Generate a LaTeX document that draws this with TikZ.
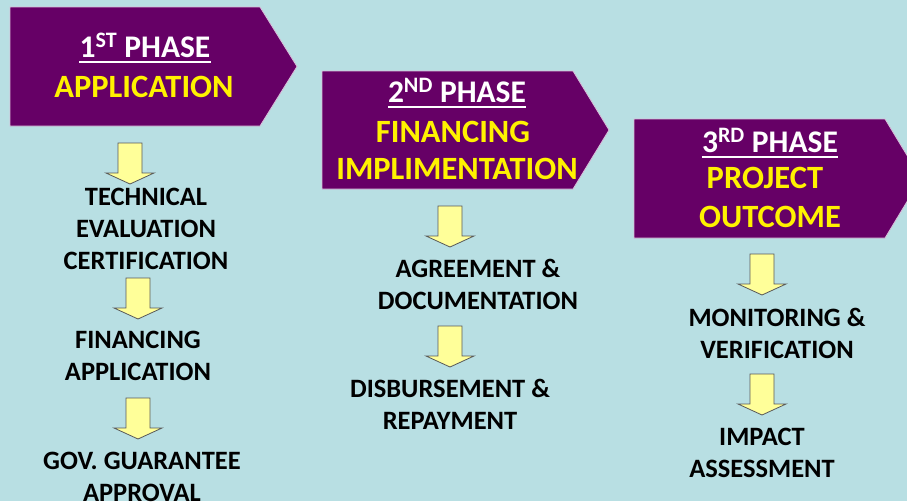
\documentclass[tikz,border=0pt]{standalone}
\usepackage{fontspec}
\setmainfont{Carlito}
\usetikzlibrary{positioning}
\definecolor{bgblue}{RGB}{184,223,227}
\definecolor{phasepurple}{RGB}{102,0,102}
\definecolor{arrowyellow}{RGB}{255,255,153}
\tikzstyle{phasebox}=[fill=phasepurple,draw=white!75!phasepurple,line width=0.8pt]
\tikzstyle{phasehead}=[text=white,font=\fontsize{31.5}{36}\selectfont\bfseries,inner sep=0pt,anchor=base]
\tikzstyle{phasetitle}=[text=yellow,font=\fontsize{32.5}{36}\selectfont\bfseries,inner sep=0pt,anchor=base]
\tikzstyle{steptext}=[text=black,font=\fontsize{26.5}{32}\selectfont\bfseries,inner sep=0pt,align=center]
\tikzstyle{blockarrow}=[fill=arrowyellow,draw=black!65,line width=0.8pt,line join=miter]
\tikzstyle{headline}=[white,line width=2.6pt]
\newcommand{\phaseshape}[5]{\draw[phasebox] (#1,#2) -- (#3,#2) -- (#5,{(#2+#4)/2}) -- (#3,#4) -- (#1,#4) -- cycle;}
\newcommand{\blockdown}[2]{\draw[blockarrow] (#1-12,#2) -- (#1+12,#2) -- (#1+12,#2+30) -- (#1+24,#2+30) -- (#1,#2+41) -- (#1-24,#2+30) -- (#1-12,#2+30) -- cycle;}

\begin{document}
\begin{tikzpicture}[x=1pt,y=-1pt]
    \fill[bgblue] (0,0) rectangle (907,501);
    \useasboundingbox (0,0) rectangle (907,501);
    \phaseshape{10}{7}{260}{126}{297}
    \phaseshape{322}{71}{573}{189}{609}
    \phaseshape{634}{119}{885}{238}{921}
    \node[phasehead] (P1H) at (145,57) {1\textsuperscript{ST} PHASE};
    \node[phasetitle] (P1T) at (144,97) {APPLICATION};
    \node[phasehead] (P2H) at (457,102) {2\textsuperscript{ND} PHASE};
    \node[phasetitle] (P2T) at (453,142) {FINANCING};
    \node[phasetitle] (P2U) at (457,179) {IMPLIMENTATION};
    \node[phasehead] (P3H) at (770,152) {3\textsuperscript{RD} PHASE};
    \node[phasetitle] (P3T) at (765,188) {PROJECT};
    \node[phasetitle] (P3U) at (770,227) {OUTCOME};
    \draw[headline] ([yshift=-5pt]P1H.base west) -- ([yshift=-5pt]P1H.base east);
    \draw[headline] ([yshift=-5pt]P2H.base west) -- ([yshift=-5pt]P2H.base east);
    \draw[headline] ([yshift=-5pt]P3H.base west) -- ([yshift=-5pt]P3H.base east);
    \blockdown{130}{143}
    \blockdown{138}{278}
    \blockdown{138}{398}
    \blockdown{450}{206}
    \blockdown{450}{326}
    \blockdown{762}{254}
    \blockdown{762}{374}
    \node[steptext] (S1A) at (146,229) {TECHNICAL\\EVALUATION\\CERTIFICATION};
    \node[steptext] (S1B) at (138,356) {FINANCING\\APPLICATION};
    \node[steptext] (S1C) at (142,477) {GOV. GUARANTEE\\APPROVAL};
    \node[steptext] (S2A) at (478,284.5) {AGREEMENT \&\\DOCUMENTATION};
    \node[steptext] (S2B) at (450,404.5) {DISBURSEMENT \&\\REPAYMENT};
    \node[steptext] (S3A) at (777,333) {MONITORING \&\\VERIFICATION};
    \node[steptext] (S3B) at (762,452.5) {IMPACT\\ASSESSMENT};
\end{tikzpicture}
\end{document}
